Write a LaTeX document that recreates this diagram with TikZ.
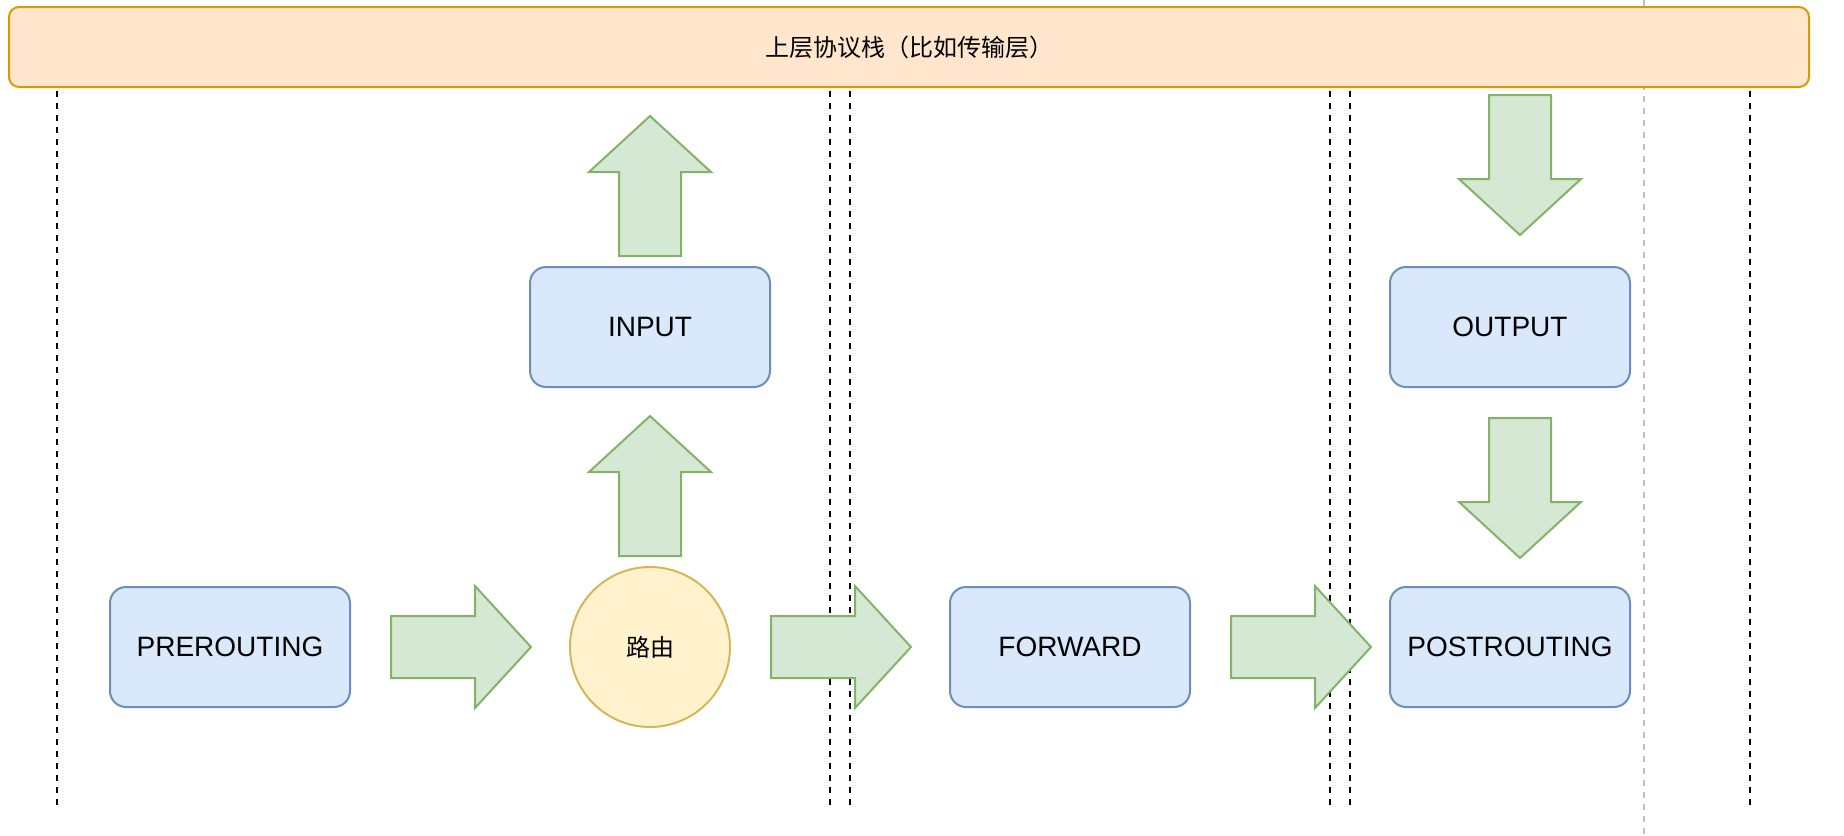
\documentclass[tikz,border=0pt]{standalone}
\usepackage{fontspec}
\setmainfont{Liberation Sans}
\newfontfamily\cjk{Noto Sans CJK SC}
\usetikzlibrary{positioning}

\definecolor{hookfill}{HTML}{DAE8FC}
\definecolor{hookline}{HTML}{6C8EBF}
\definecolor{arrfill}{HTML}{D5E8D4}
\definecolor{arrline}{HTML}{82B366}
\definecolor{routefill}{HTML}{FFF2CC}
\definecolor{routeline}{HTML}{D6B656}
\definecolor{stackfill}{HTML}{FFE6CC}
\definecolor{stackline}{HTML}{D79B00}

\tikzset{fatarrow/.pic={
  \draw[arrowbody] (0,-31) -- (84,-31) -- (84,-61) -- (140,0) -- (84,61)
    -- (84,31) -- (0,31) -- cycle;}}

\begin{document}
\begin{tikzpicture}[x=0.5pt,y=-0.5pt,line width=1pt,node distance=210pt,
                    on grid]
  \tikzstyle{hook}=[draw=hookline,fill=hookfill,rounded corners=8pt,
                    minimum width=120pt,minimum height=60pt,
                    font=\fontsize{14}{16}\selectfont]
  \tikzstyle{arrowbody}=[draw=arrline,fill=arrfill,line width=1pt]
  \tikzstyle{sep}=[black,dash pattern=on 3pt off 3pt]

  \useasboundingbox (0,0) rectangle (1844,836);

  % separators
  \draw[sep,black!25] (1644,0) -- (1644,836);
  \foreach \x in {57,830,850,1330,1350,1750}
    \draw[sep] (\x,91) -- (\x,806);

  \node[draw=stackline,fill=stackfill,rounded corners=5pt,minimum width=900pt,
        minimum height=40pt,font=\cjk\fontsize{12}{14}\selectfont]
        (stack) at (909,47) {上层协议栈（比如传输层）};

  \node[hook]   (pre)                  at (230,647) {PREROUTING};
  \node[circle,draw=routeline,fill=routefill,minimum size=80pt,
        font=\cjk\fontsize{12}{14}\selectfont]
                (route) [right=of pre]   {路由};
  \node[hook]   (fwd)   [right=of route] {FORWARD};
  \node[hook]   (post)  [right=220pt of fwd] {POSTROUTING};
  \node[hook]   (in)    [above=160pt of route] {INPUT};
  \node[hook]   (out)   [above=160pt of post]  {OUTPUT};

  % block arrows
  \path (pre.east)   ++(40,0)  pic {fatarrow};
  \path (route.east) ++(40,0)  pic {fatarrow};
  \path (fwd.east)   ++(40,0)  pic {fatarrow};
  \path (route.north) ++(0,-10) pic[rotate=90] {fatarrow};
  \path (in.north)    ++(0,-10) pic[rotate=90] {fatarrow};
  \path (out.south)   ++(10,30) pic[rotate=-90] {fatarrow};
  \path (out.north)   ++(10,-171) pic[rotate=-90] {fatarrow};
\end{tikzpicture}
\end{document}
